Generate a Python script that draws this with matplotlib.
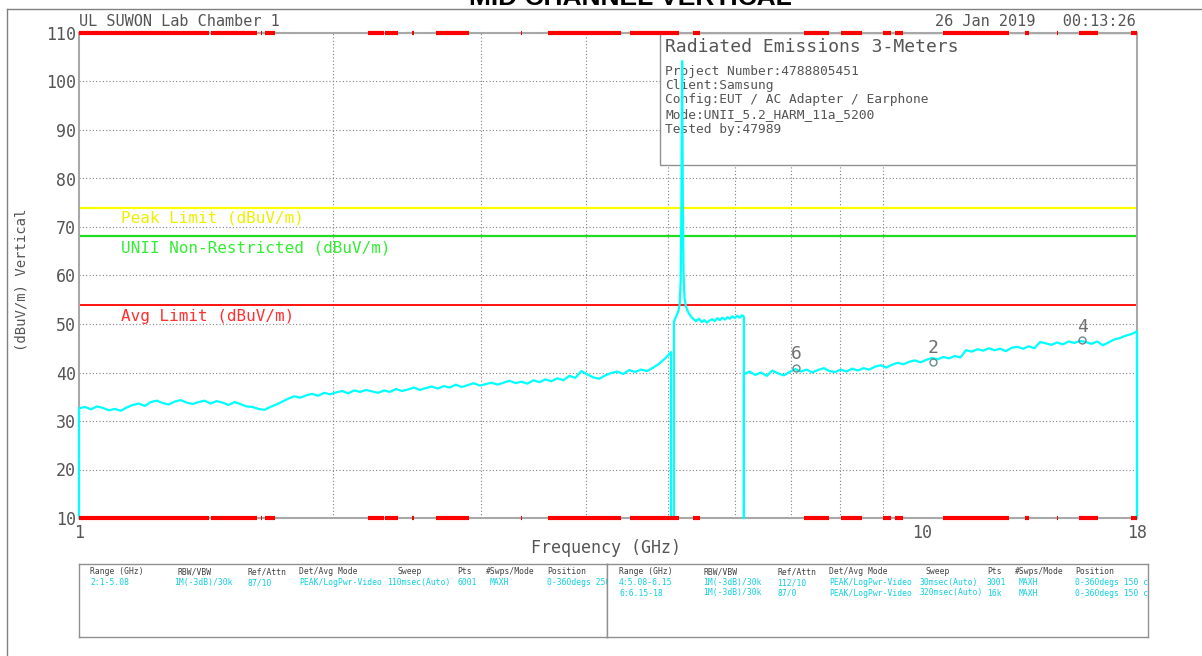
import numpy as np
import matplotlib.pyplot as plt
from matplotlib.patches import Rectangle
from matplotlib.lines import Line2D
from matplotlib.ticker import NullFormatter

# ---------------- sweep data (GHz / dBuV/m) ----------------
# range 2 : 1 - 5.08 GHz (read at even log steps)
r2_start, r2_stop = 1.0, 5.04
r2_level = [32.6, 32.9, 32.4, 33.0, 32.7, 32.2, 32.5, 32.1, 32.8, 33.3,
            33.6, 33.1, 33.9, 34.2, 33.7, 33.4, 34.0, 34.3, 33.8, 33.5,
            33.9, 34.2, 33.6, 34.1, 33.8, 33.3, 33.9, 33.5, 33.0, 32.9,
            32.5, 32.3, 32.9, 33.4, 34.0, 34.6, 35.1, 34.8, 35.3, 35.6,
            35.2, 35.8, 35.5, 35.9, 36.2, 35.7, 36.3, 36.0, 36.4, 36.1,
            35.8, 36.3, 36.0, 36.6, 36.2, 36.5, 36.9, 36.4, 36.8, 37.1,
            36.7, 37.2, 36.9, 37.5, 37.0, 37.4, 37.8, 37.3, 37.6, 37.9,
            37.5, 37.9, 38.3, 37.8, 38.1, 37.7, 38.4, 38.0, 38.6, 38.2,
            38.8, 38.4, 39.3, 38.9, 40.3, 39.6, 39.0, 38.7, 39.4, 39.9,
            40.2, 39.7, 40.5, 40.1, 40.6, 40.3, 41.0, 41.8, 42.9, 44.2]

# range 4 : 5.08 - 6.15 GHz (carrier at 5.2 GHz)
r4_freq = [5.08, 5.10, 5.12, 5.14, 5.16, 5.175, 5.185, 5.195, 5.205, 5.215,
           5.23, 5.25, 5.27, 5.30, 5.33, 5.36, 5.40, 5.44, 5.48, 5.52,
           5.56, 5.60, 5.64, 5.68, 5.72, 5.76, 5.80, 5.84, 5.88, 5.92,
           5.96, 6.00, 6.04, 6.08, 6.12, 6.15]
r4_level = [50.4, 51.2, 51.9, 52.6, 54.0, 59.0, 75.6, 104.2, 76.0, 60.5,
            55.2, 53.6, 52.8, 52.0, 51.4, 51.0, 50.6, 51.1, 50.4, 50.8,
            50.3, 50.7, 51.0, 50.6, 51.2, 50.8, 51.3, 50.9, 51.4, 51.1,
            51.6, 51.2, 51.7, 51.3, 51.8, 51.5]

# range 6 : 6.15 - 18 GHz
r6_start, r6_stop = 6.15, 18.0
r6_level = [39.6, 40.2, 39.5, 40.0, 39.3, 40.4, 39.8, 39.4, 40.1, 40.7,
            40.2, 40.6, 40.0, 40.5, 40.9, 40.3, 40.1, 40.6, 40.2, 40.8,
            40.4, 40.9, 40.6, 41.2, 41.5, 41.0, 41.6, 42.0, 41.7, 42.2,
            42.5, 42.1, 42.6, 43.0, 42.7, 43.2, 42.9, 43.4, 43.1, 44.6,
            44.3, 44.8, 44.5, 45.0, 44.6, 44.9, 44.4, 45.1, 45.3, 44.9,
            45.4, 45.0, 46.3, 46.0, 45.7, 46.2, 45.8, 46.4, 46.1, 46.5,
            46.3, 45.9, 46.4, 45.6, 46.2, 46.8, 47.1, 47.6, 47.9, 48.5]

# markers
mk_freq = [7.1, 10.3, 15.5]
mk_level = [41.0, 42.2, 46.6]
mk_label = ['6', '2', '4']

# limit lines
peak_limit = 74.0
unii_limit = 68.2
avg_limit = 54.0

# restricted bands (GHz), shown along top and bottom edges
band_lo = [1.0, 1.435, 1.6455, 1.66, 2.2, 2.31, 2.4835, 2.655, 3.26, 3.332,
           3.3458, 3.6, 4.5, 5.35, 7.25, 8.025, 9.0, 9.3, 10.6, 13.25,
           14.47, 15.35, 17.7]
band_hi = [1.427, 1.6265, 1.6465, 1.71, 2.3, 2.39, 2.5, 2.9, 3.267, 3.339,
           3.358, 4.4, 5.15, 5.46, 7.75, 8.5, 9.2, 9.5, 12.7, 13.4,
           14.5, 16.2, 18.0]

info_title = 'Radiated Emissions 3-Meters'
info_lines = ['Project Number:4788805451', 'Client:Samsung',
              'Config:EUT / AC Adapter / Earphone',
              'Mode:UNII_5.2_HARM_11a_5200', 'Tested by:47989']

tbl_head = ['Range (GHz)', 'RBW/VBW', 'Ref/Attn', 'Det/Avg Mode', 'Sweep',
            'Pts', '#Swps/Mode', 'Position']
tbl_left = [['2:1-5.08', '1M(-3dB)/30k', '87/10', 'PEAK/LogPwr-Video',
             '110msec(Auto)', '6001', 'MAXH', '0-360degs 250']]
tbl_right = [['4:5.08-6.15', '1M(-3dB)/30k', '112/10', 'PEAK/LogPwr-Video',
              '30msec(Auto)', '3001', 'MAXH', '0-360degs 150 cm'],
             ['6:6.15-18', '1M(-3dB)/30k', '87/0', 'PEAK/LogPwr-Video',
              '320msec(Auto)', '16k', 'MAXH', '0-360degs 150 cm']]

FLOOR = 10.0
MONO = 'DejaVu Sans Mono'
GREY = '#555555'
W, H = 1202, 656

fig = plt.figure(figsize=(W / 100, H / 100), dpi=100)
fig.patch.set_facecolor('white')


def fx(px):
    return px / W


def fy(py):
    return 1 - py / H


# outer frame
fig.add_artist(Line2D([fx(7), 1], [fy(9), fy(9)], color='#808080', lw=1.0))
fig.add_artist(Line2D([fx(7), fx(7)], [fy(9), 0], color='#808080', lw=1.0))

fig.text(fx(630), fy(5), 'MID CHANNEL VERTICAL', family='Liberation Sans',
         fontweight='bold', fontsize=19, ha='center', va='baseline')

ax = fig.add_axes([fx(79), fy(518), fx(1137 - 79), (518 - 33) / H])
ax.set_xscale('log')
ax.set_xlim(1, 18)
ax.set_ylim(10, 110)
ax.set_axisbelow(True)

ax.set_xticks([1, 10, 18])
ax.set_xticklabels(['1', '10', '18'])
ax.set_xticks([2, 3, 4, 5, 6, 7, 8, 9], minor=True)
ax.xaxis.set_minor_formatter(NullFormatter())
ax.set_yticks(np.arange(10, 111, 10))
ax.tick_params(which='both', length=0, labelsize=12, labelcolor=GREY)
ax.tick_params(axis='y', pad=2)
ax.tick_params(axis='x', pad=4)
for lab in ax.get_xticklabels() + ax.get_yticklabels():
    lab.set_family(MONO)
ax.grid(True, which='minor', axis='x', ls=(0, (1, 2)), color='#808080', lw=0.8)
ax.grid(True, which='major', axis='y', ls=(0, (1, 2)), color='#808080', lw=0.8)

for side in ['left', 'right', 'top', 'bottom']:
    ax.spines[side].set_color('#a8a8a8')
    ax.spines[side].set_linewidth(1.5)

# info box (sits over the grid, under the trace)
ax.add_patch(Rectangle(((660 - 79) / 1058, (518 - 165) / 485),
                       (1137 - 660) / 1058, (165 - 33) / 485,
                       transform=ax.transAxes, facecolor='white',
                       edgecolor='#909090', lw=1.0, zorder=1))
bx = (665 - 79) / 1058
ax.text(bx, (518 - 47) / 485, info_title, transform=ax.transAxes,
        family=MONO, fontsize=13, color=GREY, va='center', zorder=1.5)
for i, line in enumerate(info_lines):
    ax.text(bx, (518 - (71 + 14.5 * i)) / 485, line, transform=ax.transAxes,
            family=MONO, fontsize=9.3, color=GREY, va='center', zorder=1.5)

# limit lines
ax.axhline(peak_limit, color='#ffff00', lw=1.6, zorder=2)
ax.axhline(unii_limit, color='#22dd22', lw=1.6, zorder=2)
ax.axhline(avg_limit, color='#ff0000', lw=1.3, zorder=2)
lx = (121 - 79) / 1058
ax.text(lx, peak_limit - 2.1, 'Peak Limit (dBuV/m)', transform=ax.get_yaxis_transform(),
        family=MONO, fontsize=11.5, color='#eeee00', va='center')
ax.text(lx, unii_limit - 2.5, 'UNII Non-Restricted (dBuV/m)', transform=ax.get_yaxis_transform(),
        family=MONO, fontsize=11.5, color='#33ee33', va='center')
ax.text(lx, avg_limit - 2.4, 'Avg Limit (dBuV/m)', transform=ax.get_yaxis_transform(),
        family=MONO, fontsize=11.5, color='#ff3030', va='center')

# traces, each range starts and ends at the floor
f2 = np.geomspace(r2_start, r2_stop, len(r2_level))
f6 = np.geomspace(r6_start, r6_stop, len(r6_level))
for f, lv in [(f2, r2_level), (r4_freq, r4_level), (f6, r6_level)]:
    xs = [f[0]] + list(f) + [f[-1]]
    ys = [FLOOR] + list(lv) + [FLOOR]
    ax.plot(xs, ys, color='#00ffff', lw=1.6, zorder=3, clip_on=False)

# markers
ax.plot(mk_freq, mk_level, ls='none', marker='o', ms=5, mfc='none',
        mec='#6a8a8a', mew=1.0, zorder=4)
for f, lv, s in zip(mk_freq, mk_level, mk_label):
    ax.text(f, lv + 2.8, s, family=MONO, fontsize=13, color='#707070',
            ha='center', va='center', zorder=4)

# restricted band bars
ax.hlines([110] * len(band_lo), band_lo, band_hi, color='#ff0000', lw=3,
          zorder=5, clip_on=False)
ax.hlines([10] * len(band_lo), band_lo, band_hi, color='#ff0000', lw=3,
          zorder=5, clip_on=False)

fig.text(fx(79), fy(22), 'UL SUWON Lab Chamber 1', family=MONO, fontsize=11,
         color=GREY, va='center')
fig.text(fx(1136), fy(22), '26 Jan 2019   00:13:26', family=MONO, fontsize=11,
         color=GREY, va='center', ha='right')
fig.text(fx(606), fy(548), 'Frequency (GHz)', family=MONO, fontsize=12,
         color=GREY, ha='center', va='center')
fig.text(fx(22), fy(280), '(dBuV/m) Vertical', family=MONO, fontsize=10,
         color=GREY, ha='center', va='center', rotation=90)

# sweep settings table
head_x = [[90, 178, 247, 299, 397, 457, 486, 547],
          [619, 703, 777, 829, 926, 987, 1015, 1075]]
data_x = [[90, 174, 247, 299, 387, 457, 490, 547],
          [619, 703, 777, 829, 920, 987, 1019, 1075]]
boxes = [(79, 607), (607, 1148)]
for k, rows in enumerate([tbl_left, tbl_right]):
    x0, x1 = boxes[k]
    tb = fig.add_axes([fx(x0), fy(637), fx(x1 - x0), (637 - 564) / H])
    tb.set_xticks([])
    tb.set_yticks([])
    for side in tb.spines:
        tb.spines[side].set_color('#909090')
        tb.spines[side].set_linewidth(1.0)

    def tx(px):
        return (px - x0) / (x1 - x0)

    def ty(py):
        return (637 - py) / (637 - 564)

    for s, px in zip(tbl_head, head_x[k]):
        tb.text(tx(px), ty(572), s, family=MONO, fontsize=5.8, color='#404040',
                va='center', clip_on=True)
    for r, row in enumerate(rows):
        for s, px in zip(row, data_x[k]):
            tb.text(tx(px), ty(582.5 + 10.5 * r), s, family=MONO, fontsize=5.8,
                    color='#10d0e0', va='center', clip_on=True)

fig.savefig('out.png', dpi=100)
